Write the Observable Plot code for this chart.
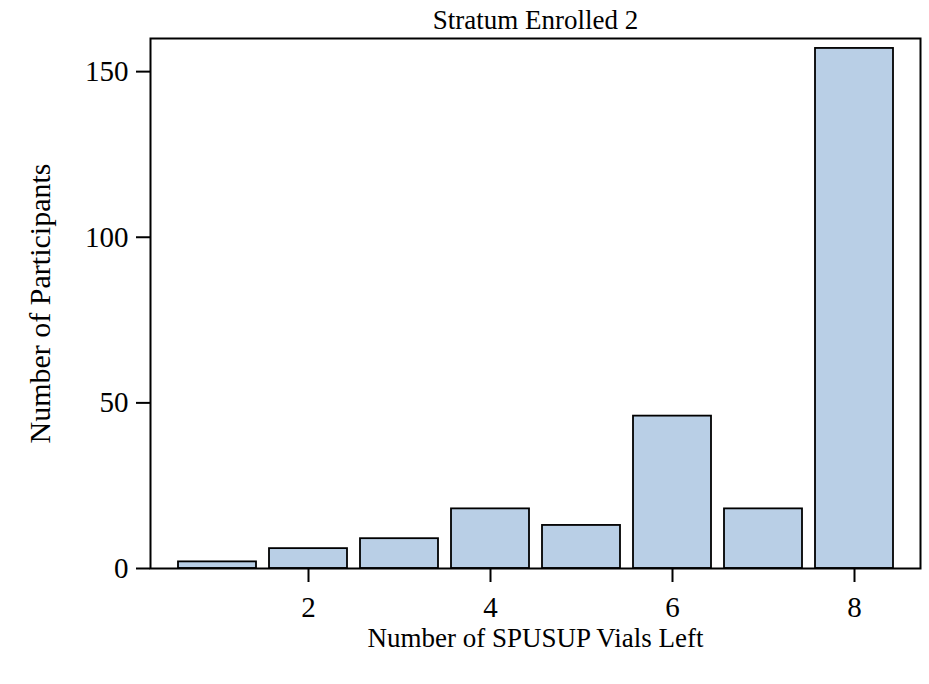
<!DOCTYPE html>
<html>
<head>
<meta charset="utf-8">
<script src="https://cdn.jsdelivr.net/npm/d3@7"></script>
<script src="https://cdn.jsdelivr.net/npm/@observablehq/plot@0.6"></script>
<style>
  html, body { margin: 0; padding: 0; background: white; }
</style>
</head>
<body>
<div id="chart"></div>
<script>
const vialsLeft = [1, 2, 3, 4, 5, 6, 7, 8];
const participants = [2, 6, 9, 18, 13, 46, 18, 157];
const xTicks = [2, 4, 6, 8];
const yTicks = [0, 50, 100, 150];
const title = "Stratum Enrolled 2";
const xLabel = "Number of SPUSUP Vials Left";
const yLabel = "Number of Participants";

const data = vialsLeft.map((v, i) => ({v, n: participants[i]}));

const chart = Plot.plot({
  width: 929,
  height: 684,
  marginTop: 38,
  marginBottom: 116,
  marginLeft: 150,
  marginRight: 9,
  style: {fontFamily: "'Liberation Serif', 'DejaVu Serif', serif", fontSize: "29px", background: "white", color: "black"},
  x: {type: "band", domain: vialsLeft, paddingInner: 0.145, paddingOuter: 0.294},
  y: {domain: [0, 160]},
  marks: [
    Plot.barY(data, {x: "v", y: "n", fill: "#b9cfe6", stroke: "black", strokeWidth: 1.8}),
    Plot.frame({stroke: "black", strokeWidth: 2}),
    Plot.axisX({ticks: xTicks, tickSize: 14, tickPadding: 14, fontSize: 29, label: null, strokeWidth: 2}),
    Plot.axisY({ticks: yTicks, tickSize: 14, tickPadding: 8, fontSize: 29, label: null, strokeWidth: 2}),
    Plot.text([title], {frameAnchor: "top", dy: -18, fontSize: 27, lineAnchor: "middle"}),
    Plot.text([xLabel], {frameAnchor: "bottom", dy: 70, fontSize: 27, lineAnchor: "middle"}),
    Plot.text([yLabel], {frameAnchor: "left", dx: -110, rotate: -90, fontSize: 30, textAnchor: "middle", lineAnchor: "middle"})
  ]
});
document.getElementById("chart").appendChild(chart);
</script>
</body>
</html>
